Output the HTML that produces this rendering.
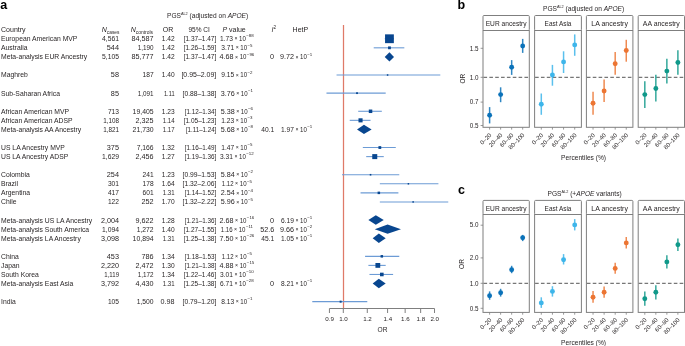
<!DOCTYPE html>
<html><head><meta charset="utf-8"><style>
html,body{margin:0;padding:0;background:#fff;width:685px;height:346px;overflow:hidden}
svg{display:block;will-change:transform;font-family:"Liberation Sans",sans-serif}
</style></head><body>
<svg width="685" height="346" viewBox="0 0 685 346">
<text x="0.2" y="8.8" font-size="12.5" font-weight="bold" fill="#000">a</text>
<text x="167.0" y="17.9" font-size="6.6" fill="#231f20">PGS<tspan font-size="3.8" dy="-2.6">AL2</tspan><tspan dy="2.6"> (adjusted on </tspan><tspan font-style="italic">APOE</tspan>)</text>
<text x="1.00" y="31.90" font-size="7" text-anchor="start" fill="#231f20" textLength="24.60" lengthAdjust="spacingAndGlyphs" >Country</text>
<text x="101.8" y="31.9" font-size="7" fill="#231f20"><tspan font-style="italic">N</tspan><tspan font-size="4.8" dy="1.9">cases</tspan></text>
<text x="130.8" y="31.9" font-size="7" fill="#231f20"><tspan font-style="italic">N</tspan><tspan font-size="4.9" dy="1.9">controls</tspan></text>
<text x="162.70" y="31.90" font-size="7" text-anchor="start" fill="#231f20" >OR</text>
<text x="188.40" y="31.90" font-size="7" text-anchor="start" fill="#231f20" textLength="21.40" lengthAdjust="spacingAndGlyphs" >95% CI</text>
<text x="222.4" y="31.9" font-size="7" fill="#231f20"><tspan font-style="italic">P</tspan> value</text>
<text x="271.6" y="31.9" font-size="7" fill="#231f20"><tspan font-style="italic">I</tspan><tspan font-size="4.6" dy="-3">2</tspan></text>
<text x="292.60" y="31.90" font-size="7" text-anchor="start" fill="#231f20" >HetP</text>
<text x="1.00" y="41.20" font-size="7" text-anchor="start" fill="#231f20" textLength="76.39" lengthAdjust="spacingAndGlyphs" >European American MVP</text>
<text x="119.00" y="41.20" font-size="7" text-anchor="end" fill="#231f20" textLength="16.94" lengthAdjust="spacingAndGlyphs" >4,561</text>
<text x="153.60" y="41.20" font-size="7" text-anchor="end" fill="#231f20" textLength="22.12" lengthAdjust="spacingAndGlyphs" >84,587</text>
<text x="174.60" y="41.20" font-size="7" text-anchor="end" fill="#231f20" textLength="12.88" lengthAdjust="spacingAndGlyphs" >1.42</text>
<text x="216.30" y="41.20" font-size="7" text-anchor="end" fill="#231f20" textLength="32.62" lengthAdjust="spacingAndGlyphs" >[1.37–1.47]</text>
<text x="220.06" y="41.20" font-size="7" text-anchor="start" fill="#231f20" textLength="12.88" lengthAdjust="spacingAndGlyphs" >1.73</text>
<text x="234.44" y="40.40" font-size="5.2" text-anchor="start" fill="#231f20" >×</text>
<text x="239.08" y="41.20" font-size="7" text-anchor="start" fill="#231f20" textLength="6.80" lengthAdjust="spacingAndGlyphs" >10</text>
<text x="246.28" y="37.45" font-size="4.4" text-anchor="start" fill="#231f20" >−88</text>
<text x="1.00" y="50.27" font-size="7" text-anchor="start" fill="#231f20" textLength="26.47" lengthAdjust="spacingAndGlyphs" >Australia</text>
<text x="119.00" y="50.27" font-size="7" text-anchor="end" fill="#231f20" textLength="12.18" lengthAdjust="spacingAndGlyphs" >544</text>
<text x="153.60" y="50.27" font-size="7" text-anchor="end" fill="#231f20" textLength="15.82" lengthAdjust="spacingAndGlyphs" >1,190</text>
<text x="174.60" y="50.27" font-size="7" text-anchor="end" fill="#231f20" textLength="12.88" lengthAdjust="spacingAndGlyphs" >1.42</text>
<text x="216.30" y="50.27" font-size="7" text-anchor="end" fill="#231f20" textLength="32.62" lengthAdjust="spacingAndGlyphs" >[1.26–1.59]</text>
<text x="221.28" y="50.27" font-size="7" text-anchor="start" fill="#231f20" textLength="12.88" lengthAdjust="spacingAndGlyphs" >3.71</text>
<text x="235.66" y="49.47" font-size="5.2" text-anchor="start" fill="#231f20" >×</text>
<text x="240.30" y="50.27" font-size="7" text-anchor="start" fill="#231f20" textLength="6.80" lengthAdjust="spacingAndGlyphs" >10</text>
<text x="247.50" y="46.52" font-size="4.4" text-anchor="start" fill="#231f20" >−5</text>
<text x="1.00" y="59.33" font-size="7" text-anchor="start" fill="#231f20" textLength="86.21" lengthAdjust="spacingAndGlyphs" >Meta-analysis EUR Ancestry</text>
<text x="119.00" y="59.33" font-size="7" text-anchor="end" fill="#231f20" textLength="16.94" lengthAdjust="spacingAndGlyphs" >5,105</text>
<text x="153.60" y="59.33" font-size="7" text-anchor="end" fill="#231f20" textLength="22.12" lengthAdjust="spacingAndGlyphs" >85,777</text>
<text x="174.60" y="59.33" font-size="7" text-anchor="end" fill="#231f20" textLength="12.88" lengthAdjust="spacingAndGlyphs" >1.42</text>
<text x="216.30" y="59.33" font-size="7" text-anchor="end" fill="#231f20" textLength="32.62" lengthAdjust="spacingAndGlyphs" >[1.37–1.47]</text>
<text x="219.50" y="59.33" font-size="7" text-anchor="start" fill="#231f20" textLength="14.00" lengthAdjust="spacingAndGlyphs" >4.68</text>
<text x="235.00" y="58.53" font-size="5.2" text-anchor="start" fill="#231f20" >×</text>
<text x="239.64" y="59.33" font-size="7" text-anchor="start" fill="#231f20" textLength="6.80" lengthAdjust="spacingAndGlyphs" >10</text>
<text x="246.84" y="55.58" font-size="4.4" text-anchor="start" fill="#231f20" >−96</text>
<text x="274.20" y="59.33" font-size="7" text-anchor="end" fill="#231f20" textLength="4.06" lengthAdjust="spacingAndGlyphs" >0</text>
<text x="279.95" y="59.33" font-size="7" text-anchor="start" fill="#231f20" textLength="14.00" lengthAdjust="spacingAndGlyphs" >9.72</text>
<text x="295.45" y="58.53" font-size="5.2" text-anchor="start" fill="#231f20" >×</text>
<text x="300.08" y="59.33" font-size="7" text-anchor="start" fill="#231f20" textLength="6.80" lengthAdjust="spacingAndGlyphs" >10</text>
<text x="307.28" y="55.58" font-size="4.4" text-anchor="start" fill="#231f20" >−1</text>
<text x="1.00" y="77.46" font-size="7" text-anchor="start" fill="#231f20" textLength="26.85" lengthAdjust="spacingAndGlyphs" >Maghreb</text>
<text x="119.00" y="77.46" font-size="7" text-anchor="end" fill="#231f20" textLength="8.12" lengthAdjust="spacingAndGlyphs" >58</text>
<text x="153.60" y="77.46" font-size="7" text-anchor="end" fill="#231f20" textLength="11.06" lengthAdjust="spacingAndGlyphs" >187</text>
<text x="174.60" y="77.46" font-size="7" text-anchor="end" fill="#231f20" textLength="12.88" lengthAdjust="spacingAndGlyphs" >1.40</text>
<text x="216.30" y="77.46" font-size="7" text-anchor="end" fill="#231f20" textLength="34.86" lengthAdjust="spacingAndGlyphs" >[0.95–2.09]</text>
<text x="221.28" y="77.46" font-size="7" text-anchor="start" fill="#231f20" textLength="12.88" lengthAdjust="spacingAndGlyphs" >9.15</text>
<text x="235.66" y="76.66" font-size="5.2" text-anchor="start" fill="#231f20" >×</text>
<text x="240.30" y="77.46" font-size="7" text-anchor="start" fill="#231f20" textLength="6.80" lengthAdjust="spacingAndGlyphs" >10</text>
<text x="247.50" y="73.71" font-size="4.4" text-anchor="start" fill="#231f20" >−2</text>
<text x="1.00" y="95.60" font-size="7" text-anchor="start" fill="#231f20" textLength="59.00" lengthAdjust="spacingAndGlyphs" >Sub-Saharan Africa</text>
<text x="119.00" y="95.60" font-size="7" text-anchor="end" fill="#231f20" textLength="8.12" lengthAdjust="spacingAndGlyphs" >85</text>
<text x="153.60" y="95.60" font-size="7" text-anchor="end" fill="#231f20" textLength="15.82" lengthAdjust="spacingAndGlyphs" >1,091</text>
<text x="174.60" y="95.60" font-size="7" text-anchor="end" fill="#231f20" textLength="10.64" lengthAdjust="spacingAndGlyphs" >1.11</text>
<text x="216.30" y="95.60" font-size="7" text-anchor="end" fill="#231f20" textLength="33.74" lengthAdjust="spacingAndGlyphs" >[0.88–1.38]</text>
<text x="220.72" y="95.60" font-size="7" text-anchor="start" fill="#231f20" textLength="14.00" lengthAdjust="spacingAndGlyphs" >3.76</text>
<text x="236.22" y="94.80" font-size="5.2" text-anchor="start" fill="#231f20" >×</text>
<text x="240.86" y="95.60" font-size="7" text-anchor="start" fill="#231f20" textLength="6.80" lengthAdjust="spacingAndGlyphs" >10</text>
<text x="248.06" y="91.85" font-size="4.4" text-anchor="start" fill="#231f20" >−1</text>
<text x="1.00" y="113.73" font-size="7" text-anchor="start" fill="#231f20" textLength="68.06" lengthAdjust="spacingAndGlyphs" >African American MVP</text>
<text x="119.00" y="113.73" font-size="7" text-anchor="end" fill="#231f20" textLength="11.06" lengthAdjust="spacingAndGlyphs" >713</text>
<text x="153.60" y="113.73" font-size="7" text-anchor="end" fill="#231f20" textLength="21.00" lengthAdjust="spacingAndGlyphs" >19,405</text>
<text x="174.60" y="113.73" font-size="7" text-anchor="end" fill="#231f20" textLength="12.88" lengthAdjust="spacingAndGlyphs" >1.23</text>
<text x="216.30" y="113.73" font-size="7" text-anchor="end" fill="#231f20" textLength="31.50" lengthAdjust="spacingAndGlyphs" >[1.12–1.34]</text>
<text x="220.72" y="113.73" font-size="7" text-anchor="start" fill="#231f20" textLength="14.00" lengthAdjust="spacingAndGlyphs" >5.38</text>
<text x="236.22" y="112.93" font-size="5.2" text-anchor="start" fill="#231f20" >×</text>
<text x="240.86" y="113.73" font-size="7" text-anchor="start" fill="#231f20" textLength="6.80" lengthAdjust="spacingAndGlyphs" >10</text>
<text x="248.06" y="109.98" font-size="4.4" text-anchor="start" fill="#231f20" >−6</text>
<text x="1.00" y="122.79" font-size="7" text-anchor="start" fill="#231f20" textLength="71.47" lengthAdjust="spacingAndGlyphs" >African American ADSP</text>
<text x="119.00" y="122.79" font-size="7" text-anchor="end" fill="#231f20" textLength="15.82" lengthAdjust="spacingAndGlyphs" >1,108</text>
<text x="153.60" y="122.79" font-size="7" text-anchor="end" fill="#231f20" textLength="18.06" lengthAdjust="spacingAndGlyphs" >2,325</text>
<text x="174.60" y="122.79" font-size="7" text-anchor="end" fill="#231f20" textLength="11.76" lengthAdjust="spacingAndGlyphs" >1.14</text>
<text x="216.30" y="122.79" font-size="7" text-anchor="end" fill="#231f20" textLength="32.62" lengthAdjust="spacingAndGlyphs" >[1.05–1.23]</text>
<text x="221.28" y="122.79" font-size="7" text-anchor="start" fill="#231f20" textLength="12.88" lengthAdjust="spacingAndGlyphs" >1.23</text>
<text x="235.66" y="121.99" font-size="5.2" text-anchor="start" fill="#231f20" >×</text>
<text x="240.30" y="122.79" font-size="7" text-anchor="start" fill="#231f20" textLength="6.80" lengthAdjust="spacingAndGlyphs" >10</text>
<text x="247.50" y="119.04" font-size="4.4" text-anchor="start" fill="#231f20" >−3</text>
<text x="1.00" y="131.86" font-size="7" text-anchor="start" fill="#231f20" textLength="80.17" lengthAdjust="spacingAndGlyphs" >Meta-analysis AA Ancestry</text>
<text x="119.00" y="131.86" font-size="7" text-anchor="end" fill="#231f20" textLength="15.82" lengthAdjust="spacingAndGlyphs" >1,821</text>
<text x="153.60" y="131.86" font-size="7" text-anchor="end" fill="#231f20" textLength="21.00" lengthAdjust="spacingAndGlyphs" >21,730</text>
<text x="174.60" y="131.86" font-size="7" text-anchor="end" fill="#231f20" textLength="11.76" lengthAdjust="spacingAndGlyphs" >1.17</text>
<text x="216.30" y="131.86" font-size="7" text-anchor="end" fill="#231f20" textLength="30.38" lengthAdjust="spacingAndGlyphs" >[1.11–1.24]</text>
<text x="220.72" y="131.86" font-size="7" text-anchor="start" fill="#231f20" textLength="14.00" lengthAdjust="spacingAndGlyphs" >5.68</text>
<text x="236.22" y="131.06" font-size="5.2" text-anchor="start" fill="#231f20" >×</text>
<text x="240.86" y="131.86" font-size="7" text-anchor="start" fill="#231f20" textLength="6.80" lengthAdjust="spacingAndGlyphs" >10</text>
<text x="248.06" y="128.11" font-size="4.4" text-anchor="start" fill="#231f20" >−8</text>
<text x="274.20" y="131.86" font-size="7" text-anchor="end" fill="#231f20" textLength="12.88" lengthAdjust="spacingAndGlyphs" >40.1</text>
<text x="281.07" y="131.86" font-size="7" text-anchor="start" fill="#231f20" textLength="12.88" lengthAdjust="spacingAndGlyphs" >1.97</text>
<text x="295.45" y="131.06" font-size="5.2" text-anchor="start" fill="#231f20" >×</text>
<text x="300.08" y="131.86" font-size="7" text-anchor="start" fill="#231f20" textLength="6.80" lengthAdjust="spacingAndGlyphs" >10</text>
<text x="307.28" y="128.11" font-size="4.4" text-anchor="start" fill="#231f20" >−1</text>
<text x="1.00" y="149.99" font-size="7" text-anchor="start" fill="#231f20" textLength="63.91" lengthAdjust="spacingAndGlyphs" >US LA Ancestry MVP</text>
<text x="119.00" y="149.99" font-size="7" text-anchor="end" fill="#231f20" textLength="12.18" lengthAdjust="spacingAndGlyphs" >375</text>
<text x="153.60" y="149.99" font-size="7" text-anchor="end" fill="#231f20" textLength="16.94" lengthAdjust="spacingAndGlyphs" >7,166</text>
<text x="174.60" y="149.99" font-size="7" text-anchor="end" fill="#231f20" textLength="12.88" lengthAdjust="spacingAndGlyphs" >1.32</text>
<text x="216.30" y="149.99" font-size="7" text-anchor="end" fill="#231f20" textLength="31.50" lengthAdjust="spacingAndGlyphs" >[1.16–1.49]</text>
<text x="221.28" y="149.99" font-size="7" text-anchor="start" fill="#231f20" textLength="12.88" lengthAdjust="spacingAndGlyphs" >1.47</text>
<text x="235.66" y="149.19" font-size="5.2" text-anchor="start" fill="#231f20" >×</text>
<text x="240.30" y="149.99" font-size="7" text-anchor="start" fill="#231f20" textLength="6.80" lengthAdjust="spacingAndGlyphs" >10</text>
<text x="247.50" y="146.24" font-size="4.4" text-anchor="start" fill="#231f20" >−5</text>
<text x="1.00" y="159.06" font-size="7" text-anchor="start" fill="#231f20" textLength="67.32" lengthAdjust="spacingAndGlyphs" >US LA Ancestry ADSP</text>
<text x="119.00" y="159.06" font-size="7" text-anchor="end" fill="#231f20" textLength="16.94" lengthAdjust="spacingAndGlyphs" >1,629</text>
<text x="153.60" y="159.06" font-size="7" text-anchor="end" fill="#231f20" textLength="18.06" lengthAdjust="spacingAndGlyphs" >2,456</text>
<text x="174.60" y="159.06" font-size="7" text-anchor="end" fill="#231f20" textLength="12.88" lengthAdjust="spacingAndGlyphs" >1.27</text>
<text x="216.30" y="159.06" font-size="7" text-anchor="end" fill="#231f20" textLength="31.50" lengthAdjust="spacingAndGlyphs" >[1.19–1.36]</text>
<text x="220.06" y="159.06" font-size="7" text-anchor="start" fill="#231f20" textLength="12.88" lengthAdjust="spacingAndGlyphs" >3.31</text>
<text x="234.44" y="158.26" font-size="5.2" text-anchor="start" fill="#231f20" >×</text>
<text x="239.08" y="159.06" font-size="7" text-anchor="start" fill="#231f20" textLength="6.80" lengthAdjust="spacingAndGlyphs" >10</text>
<text x="246.28" y="155.31" font-size="4.4" text-anchor="start" fill="#231f20" >−12</text>
<text x="1.00" y="177.19" font-size="7" text-anchor="start" fill="#231f20" textLength="28.74" lengthAdjust="spacingAndGlyphs" >Colombia</text>
<text x="119.00" y="177.19" font-size="7" text-anchor="end" fill="#231f20" textLength="12.18" lengthAdjust="spacingAndGlyphs" >254</text>
<text x="153.60" y="177.19" font-size="7" text-anchor="end" fill="#231f20" textLength="11.06" lengthAdjust="spacingAndGlyphs" >241</text>
<text x="174.60" y="177.19" font-size="7" text-anchor="end" fill="#231f20" textLength="12.88" lengthAdjust="spacingAndGlyphs" >1.23</text>
<text x="216.30" y="177.19" font-size="7" text-anchor="end" fill="#231f20" textLength="33.74" lengthAdjust="spacingAndGlyphs" >[0.99–1.53]</text>
<text x="220.72" y="177.19" font-size="7" text-anchor="start" fill="#231f20" textLength="14.00" lengthAdjust="spacingAndGlyphs" >5.84</text>
<text x="236.22" y="176.39" font-size="5.2" text-anchor="start" fill="#231f20" >×</text>
<text x="240.86" y="177.19" font-size="7" text-anchor="start" fill="#231f20" textLength="6.80" lengthAdjust="spacingAndGlyphs" >10</text>
<text x="248.06" y="173.44" font-size="4.4" text-anchor="start" fill="#231f20" >−2</text>
<text x="1.00" y="186.26" font-size="7" text-anchor="start" fill="#231f20" textLength="17.01" lengthAdjust="spacingAndGlyphs" >Brazil</text>
<text x="119.00" y="186.26" font-size="7" text-anchor="end" fill="#231f20" textLength="11.06" lengthAdjust="spacingAndGlyphs" >301</text>
<text x="153.60" y="186.26" font-size="7" text-anchor="end" fill="#231f20" textLength="11.06" lengthAdjust="spacingAndGlyphs" >178</text>
<text x="174.60" y="186.26" font-size="7" text-anchor="end" fill="#231f20" textLength="12.88" lengthAdjust="spacingAndGlyphs" >1.64</text>
<text x="216.30" y="186.26" font-size="7" text-anchor="end" fill="#231f20" textLength="33.74" lengthAdjust="spacingAndGlyphs" >[1.32–2.06]</text>
<text x="221.84" y="186.26" font-size="7" text-anchor="start" fill="#231f20" textLength="11.76" lengthAdjust="spacingAndGlyphs" >1.12</text>
<text x="235.10" y="185.46" font-size="5.2" text-anchor="start" fill="#231f20" >×</text>
<text x="239.74" y="186.26" font-size="7" text-anchor="start" fill="#231f20" textLength="6.80" lengthAdjust="spacingAndGlyphs" >10</text>
<text x="246.94" y="182.51" font-size="4.4" text-anchor="start" fill="#231f20" >−5</text>
<text x="1.00" y="195.32" font-size="7" text-anchor="start" fill="#231f20" textLength="29.12" lengthAdjust="spacingAndGlyphs" >Argentina</text>
<text x="119.00" y="195.32" font-size="7" text-anchor="end" fill="#231f20" textLength="11.06" lengthAdjust="spacingAndGlyphs" >417</text>
<text x="153.60" y="195.32" font-size="7" text-anchor="end" fill="#231f20" textLength="11.06" lengthAdjust="spacingAndGlyphs" >601</text>
<text x="174.60" y="195.32" font-size="7" text-anchor="end" fill="#231f20" textLength="11.76" lengthAdjust="spacingAndGlyphs" >1.31</text>
<text x="216.30" y="195.32" font-size="7" text-anchor="end" fill="#231f20" textLength="31.50" lengthAdjust="spacingAndGlyphs" >[1.14–1.52]</text>
<text x="220.72" y="195.32" font-size="7" text-anchor="start" fill="#231f20" textLength="14.00" lengthAdjust="spacingAndGlyphs" >2.54</text>
<text x="236.22" y="194.52" font-size="5.2" text-anchor="start" fill="#231f20" >×</text>
<text x="240.86" y="195.32" font-size="7" text-anchor="start" fill="#231f20" textLength="6.80" lengthAdjust="spacingAndGlyphs" >10</text>
<text x="248.06" y="191.57" font-size="4.4" text-anchor="start" fill="#231f20" >−4</text>
<text x="1.00" y="204.39" font-size="7" text-anchor="start" fill="#231f20" textLength="15.50" lengthAdjust="spacingAndGlyphs" >Chile</text>
<text x="119.00" y="204.39" font-size="7" text-anchor="end" fill="#231f20" textLength="11.06" lengthAdjust="spacingAndGlyphs" >122</text>
<text x="153.60" y="204.39" font-size="7" text-anchor="end" fill="#231f20" textLength="12.18" lengthAdjust="spacingAndGlyphs" >252</text>
<text x="174.60" y="204.39" font-size="7" text-anchor="end" fill="#231f20" textLength="12.88" lengthAdjust="spacingAndGlyphs" >1.70</text>
<text x="216.30" y="204.39" font-size="7" text-anchor="end" fill="#231f20" textLength="33.74" lengthAdjust="spacingAndGlyphs" >[1.32–2.22]</text>
<text x="220.72" y="204.39" font-size="7" text-anchor="start" fill="#231f20" textLength="14.00" lengthAdjust="spacingAndGlyphs" >5.96</text>
<text x="236.22" y="203.59" font-size="5.2" text-anchor="start" fill="#231f20" >×</text>
<text x="240.86" y="204.39" font-size="7" text-anchor="start" fill="#231f20" textLength="6.80" lengthAdjust="spacingAndGlyphs" >10</text>
<text x="248.06" y="200.64" font-size="4.4" text-anchor="start" fill="#231f20" >−5</text>
<text x="1.00" y="222.52" font-size="7" text-anchor="start" fill="#231f20" textLength="91.13" lengthAdjust="spacingAndGlyphs" >Meta-analysis US LA Ancestry</text>
<text x="119.00" y="222.52" font-size="7" text-anchor="end" fill="#231f20" textLength="18.06" lengthAdjust="spacingAndGlyphs" >2,004</text>
<text x="153.60" y="222.52" font-size="7" text-anchor="end" fill="#231f20" textLength="18.06" lengthAdjust="spacingAndGlyphs" >9,622</text>
<text x="174.60" y="222.52" font-size="7" text-anchor="end" fill="#231f20" textLength="12.88" lengthAdjust="spacingAndGlyphs" >1.28</text>
<text x="216.30" y="222.52" font-size="7" text-anchor="end" fill="#231f20" textLength="31.50" lengthAdjust="spacingAndGlyphs" >[1.21–1.36]</text>
<text x="219.50" y="222.52" font-size="7" text-anchor="start" fill="#231f20" textLength="14.00" lengthAdjust="spacingAndGlyphs" >2.68</text>
<text x="235.00" y="221.72" font-size="5.2" text-anchor="start" fill="#231f20" >×</text>
<text x="239.64" y="222.52" font-size="7" text-anchor="start" fill="#231f20" textLength="6.80" lengthAdjust="spacingAndGlyphs" >10</text>
<text x="246.84" y="218.77" font-size="4.4" text-anchor="start" fill="#231f20" >−16</text>
<text x="274.20" y="222.52" font-size="7" text-anchor="end" fill="#231f20" textLength="4.06" lengthAdjust="spacingAndGlyphs" >0</text>
<text x="281.07" y="222.52" font-size="7" text-anchor="start" fill="#231f20" textLength="12.88" lengthAdjust="spacingAndGlyphs" >6.19</text>
<text x="295.45" y="221.72" font-size="5.2" text-anchor="start" fill="#231f20" >×</text>
<text x="300.08" y="222.52" font-size="7" text-anchor="start" fill="#231f20" textLength="6.80" lengthAdjust="spacingAndGlyphs" >10</text>
<text x="307.28" y="218.77" font-size="4.4" text-anchor="start" fill="#231f20" >−1</text>
<text x="1.00" y="231.59" font-size="7" text-anchor="start" fill="#231f20" textLength="88.11" lengthAdjust="spacingAndGlyphs" >Meta-analysis South America</text>
<text x="119.00" y="231.59" font-size="7" text-anchor="end" fill="#231f20" textLength="16.94" lengthAdjust="spacingAndGlyphs" >1,094</text>
<text x="153.60" y="231.59" font-size="7" text-anchor="end" fill="#231f20" textLength="16.94" lengthAdjust="spacingAndGlyphs" >1,272</text>
<text x="174.60" y="231.59" font-size="7" text-anchor="end" fill="#231f20" textLength="12.88" lengthAdjust="spacingAndGlyphs" >1.40</text>
<text x="216.30" y="231.59" font-size="7" text-anchor="end" fill="#231f20" textLength="32.62" lengthAdjust="spacingAndGlyphs" >[1.27–1.55]</text>
<text x="220.78" y="231.59" font-size="7" text-anchor="start" fill="#231f20" textLength="11.76" lengthAdjust="spacingAndGlyphs" >1.16</text>
<text x="234.04" y="230.79" font-size="5.2" text-anchor="start" fill="#231f20" >×</text>
<text x="238.68" y="231.59" font-size="7" text-anchor="start" fill="#231f20" textLength="6.80" lengthAdjust="spacingAndGlyphs" >10</text>
<text x="245.88" y="227.84" font-size="4.4" text-anchor="start" fill="#231f20" >−11</text>
<text x="274.20" y="231.59" font-size="7" text-anchor="end" fill="#231f20" textLength="14.00" lengthAdjust="spacingAndGlyphs" >52.6</text>
<text x="279.95" y="231.59" font-size="7" text-anchor="start" fill="#231f20" textLength="14.00" lengthAdjust="spacingAndGlyphs" >9.66</text>
<text x="295.45" y="230.79" font-size="5.2" text-anchor="start" fill="#231f20" >×</text>
<text x="300.08" y="231.59" font-size="7" text-anchor="start" fill="#231f20" textLength="6.80" lengthAdjust="spacingAndGlyphs" >10</text>
<text x="307.28" y="227.84" font-size="4.4" text-anchor="start" fill="#231f20" >−2</text>
<text x="1.00" y="240.65" font-size="7" text-anchor="start" fill="#231f20" textLength="79.79" lengthAdjust="spacingAndGlyphs" >Meta-analysis LA Ancestry</text>
<text x="119.00" y="240.65" font-size="7" text-anchor="end" fill="#231f20" textLength="18.06" lengthAdjust="spacingAndGlyphs" >3,098</text>
<text x="153.60" y="240.65" font-size="7" text-anchor="end" fill="#231f20" textLength="21.00" lengthAdjust="spacingAndGlyphs" >10,894</text>
<text x="174.60" y="240.65" font-size="7" text-anchor="end" fill="#231f20" textLength="11.76" lengthAdjust="spacingAndGlyphs" >1.31</text>
<text x="216.30" y="240.65" font-size="7" text-anchor="end" fill="#231f20" textLength="32.62" lengthAdjust="spacingAndGlyphs" >[1.25–1.38]</text>
<text x="219.50" y="240.65" font-size="7" text-anchor="start" fill="#231f20" textLength="14.00" lengthAdjust="spacingAndGlyphs" >7.50</text>
<text x="235.00" y="239.85" font-size="5.2" text-anchor="start" fill="#231f20" >×</text>
<text x="239.64" y="240.65" font-size="7" text-anchor="start" fill="#231f20" textLength="6.80" lengthAdjust="spacingAndGlyphs" >10</text>
<text x="246.84" y="236.90" font-size="4.4" text-anchor="start" fill="#231f20" >−26</text>
<text x="274.20" y="240.65" font-size="7" text-anchor="end" fill="#231f20" textLength="12.88" lengthAdjust="spacingAndGlyphs" >45.1</text>
<text x="281.07" y="240.65" font-size="7" text-anchor="start" fill="#231f20" textLength="12.88" lengthAdjust="spacingAndGlyphs" >1.05</text>
<text x="295.45" y="239.85" font-size="5.2" text-anchor="start" fill="#231f20" >×</text>
<text x="300.08" y="240.65" font-size="7" text-anchor="start" fill="#231f20" textLength="6.80" lengthAdjust="spacingAndGlyphs" >10</text>
<text x="307.28" y="236.90" font-size="4.4" text-anchor="start" fill="#231f20" >−1</text>
<text x="1.00" y="258.78" font-size="7" text-anchor="start" fill="#231f20" textLength="17.78" lengthAdjust="spacingAndGlyphs" >China</text>
<text x="119.00" y="258.78" font-size="7" text-anchor="end" fill="#231f20" textLength="12.18" lengthAdjust="spacingAndGlyphs" >453</text>
<text x="153.60" y="258.78" font-size="7" text-anchor="end" fill="#231f20" textLength="12.18" lengthAdjust="spacingAndGlyphs" >786</text>
<text x="174.60" y="258.78" font-size="7" text-anchor="end" fill="#231f20" textLength="12.88" lengthAdjust="spacingAndGlyphs" >1.34</text>
<text x="216.30" y="258.78" font-size="7" text-anchor="end" fill="#231f20" textLength="31.50" lengthAdjust="spacingAndGlyphs" >[1.18–1.53]</text>
<text x="221.84" y="258.78" font-size="7" text-anchor="start" fill="#231f20" textLength="11.76" lengthAdjust="spacingAndGlyphs" >1.12</text>
<text x="235.10" y="257.98" font-size="5.2" text-anchor="start" fill="#231f20" >×</text>
<text x="239.74" y="258.78" font-size="7" text-anchor="start" fill="#231f20" textLength="6.80" lengthAdjust="spacingAndGlyphs" >10</text>
<text x="246.94" y="255.03" font-size="4.4" text-anchor="start" fill="#231f20" >−5</text>
<text x="1.00" y="267.85" font-size="7" text-anchor="start" fill="#231f20" textLength="18.54" lengthAdjust="spacingAndGlyphs" >Japan</text>
<text x="119.00" y="267.85" font-size="7" text-anchor="end" fill="#231f20" textLength="18.06" lengthAdjust="spacingAndGlyphs" >2,220</text>
<text x="153.60" y="267.85" font-size="7" text-anchor="end" fill="#231f20" textLength="18.06" lengthAdjust="spacingAndGlyphs" >2,472</text>
<text x="174.60" y="267.85" font-size="7" text-anchor="end" fill="#231f20" textLength="12.88" lengthAdjust="spacingAndGlyphs" >1.30</text>
<text x="216.30" y="267.85" font-size="7" text-anchor="end" fill="#231f20" textLength="31.50" lengthAdjust="spacingAndGlyphs" >[1.21–1.38]</text>
<text x="219.50" y="267.85" font-size="7" text-anchor="start" fill="#231f20" textLength="14.00" lengthAdjust="spacingAndGlyphs" >4.88</text>
<text x="235.00" y="267.05" font-size="5.2" text-anchor="start" fill="#231f20" >×</text>
<text x="239.64" y="267.85" font-size="7" text-anchor="start" fill="#231f20" textLength="6.80" lengthAdjust="spacingAndGlyphs" >10</text>
<text x="246.84" y="264.10" font-size="4.4" text-anchor="start" fill="#231f20" >−15</text>
<text x="1.00" y="276.92" font-size="7" text-anchor="start" fill="#231f20" textLength="37.82" lengthAdjust="spacingAndGlyphs" >South Korea</text>
<text x="119.00" y="276.92" font-size="7" text-anchor="end" fill="#231f20" textLength="14.70" lengthAdjust="spacingAndGlyphs" >1,119</text>
<text x="153.60" y="276.92" font-size="7" text-anchor="end" fill="#231f20" textLength="15.82" lengthAdjust="spacingAndGlyphs" >1,172</text>
<text x="174.60" y="276.92" font-size="7" text-anchor="end" fill="#231f20" textLength="12.88" lengthAdjust="spacingAndGlyphs" >1.34</text>
<text x="216.30" y="276.92" font-size="7" text-anchor="end" fill="#231f20" textLength="32.62" lengthAdjust="spacingAndGlyphs" >[1.22–1.46]</text>
<text x="220.06" y="276.92" font-size="7" text-anchor="start" fill="#231f20" textLength="12.88" lengthAdjust="spacingAndGlyphs" >3.01</text>
<text x="234.44" y="276.12" font-size="5.2" text-anchor="start" fill="#231f20" >×</text>
<text x="239.08" y="276.92" font-size="7" text-anchor="start" fill="#231f20" textLength="6.80" lengthAdjust="spacingAndGlyphs" >10</text>
<text x="246.28" y="273.17" font-size="4.4" text-anchor="start" fill="#231f20" >−10</text>
<text x="1.00" y="285.98" font-size="7" text-anchor="start" fill="#231f20" textLength="72.23" lengthAdjust="spacingAndGlyphs" >Meta-analysis East Asia</text>
<text x="119.00" y="285.98" font-size="7" text-anchor="end" fill="#231f20" textLength="18.06" lengthAdjust="spacingAndGlyphs" >3,792</text>
<text x="153.60" y="285.98" font-size="7" text-anchor="end" fill="#231f20" textLength="18.06" lengthAdjust="spacingAndGlyphs" >4,430</text>
<text x="174.60" y="285.98" font-size="7" text-anchor="end" fill="#231f20" textLength="11.76" lengthAdjust="spacingAndGlyphs" >1.31</text>
<text x="216.30" y="285.98" font-size="7" text-anchor="end" fill="#231f20" textLength="32.62" lengthAdjust="spacingAndGlyphs" >[1.25–1.38]</text>
<text x="220.06" y="285.98" font-size="7" text-anchor="start" fill="#231f20" textLength="12.88" lengthAdjust="spacingAndGlyphs" >6.71</text>
<text x="234.44" y="285.18" font-size="5.2" text-anchor="start" fill="#231f20" >×</text>
<text x="239.08" y="285.98" font-size="7" text-anchor="start" fill="#231f20" textLength="6.80" lengthAdjust="spacingAndGlyphs" >10</text>
<text x="246.28" y="282.23" font-size="4.4" text-anchor="start" fill="#231f20" >−28</text>
<text x="274.20" y="285.98" font-size="7" text-anchor="end" fill="#231f20" textLength="4.06" lengthAdjust="spacingAndGlyphs" >0</text>
<text x="281.07" y="285.98" font-size="7" text-anchor="start" fill="#231f20" textLength="12.88" lengthAdjust="spacingAndGlyphs" >8.21</text>
<text x="295.45" y="285.18" font-size="5.2" text-anchor="start" fill="#231f20" >×</text>
<text x="300.08" y="285.98" font-size="7" text-anchor="start" fill="#231f20" textLength="6.80" lengthAdjust="spacingAndGlyphs" >10</text>
<text x="307.28" y="282.23" font-size="4.4" text-anchor="start" fill="#231f20" >−1</text>
<text x="1.00" y="304.11" font-size="7" text-anchor="start" fill="#231f20" textLength="14.75" lengthAdjust="spacingAndGlyphs" >India</text>
<text x="119.00" y="304.11" font-size="7" text-anchor="end" fill="#231f20" textLength="11.06" lengthAdjust="spacingAndGlyphs" >105</text>
<text x="153.60" y="304.11" font-size="7" text-anchor="end" fill="#231f20" textLength="16.94" lengthAdjust="spacingAndGlyphs" >1,500</text>
<text x="174.60" y="304.11" font-size="7" text-anchor="end" fill="#231f20" textLength="14.00" lengthAdjust="spacingAndGlyphs" >0.98</text>
<text x="216.30" y="304.11" font-size="7" text-anchor="end" fill="#231f20" textLength="33.74" lengthAdjust="spacingAndGlyphs" >[0.79–1.20]</text>
<text x="221.28" y="304.11" font-size="7" text-anchor="start" fill="#231f20" textLength="12.88" lengthAdjust="spacingAndGlyphs" >8.13</text>
<text x="235.66" y="303.31" font-size="5.2" text-anchor="start" fill="#231f20" >×</text>
<text x="240.30" y="304.11" font-size="7" text-anchor="start" fill="#231f20" textLength="6.80" lengthAdjust="spacingAndGlyphs" >10</text>
<text x="247.50" y="300.36" font-size="4.4" text-anchor="start" fill="#231f20" >−1</text>
<line x1="343.5" y1="25" x2="343.5" y2="308.5" stroke="#df7a68" stroke-width="1.25"/>
<line x1="384.73" y1="38.75" x2="394.00" y2="38.75" stroke="#6c9bd5" stroke-width="1.1"/>
<rect x="385.05" y="34.35" width="8.8" height="8.8" fill="#08468f"/>
<line x1="373.71" y1="47.82" x2="404.33" y2="47.82" stroke="#6c9bd5" stroke-width="1.1"/>
<rect x="388.05" y="46.42" width="2.8" height="2.8" fill="#08468f"/>
<polygon points="384.73,56.88 389.45,52.18 394.00,56.88 389.45,61.58" fill="#08468f"/>
<line x1="336.55" y1="75.01" x2="440.31" y2="75.01" stroke="#6c9bd5" stroke-width="1.1"/>
<rect x="386.83" y="74.26" width="1.5" height="1.5" fill="#08468f"/>
<line x1="326.48" y1="93.15" x2="385.69" y2="93.15" stroke="#6c9bd5" stroke-width="1.1"/>
<rect x="356.13" y="92.25" width="1.8" height="1.8" fill="#08468f"/>
<line x1="358.21" y1="111.28" x2="381.82" y2="111.28" stroke="#6c9bd5" stroke-width="1.1"/>
<rect x="368.79" y="109.53" width="3.5" height="3.5" fill="#08468f"/>
<line x1="349.72" y1="120.34" x2="370.54" y2="120.34" stroke="#6c9bd5" stroke-width="1.1"/>
<rect x="358.49" y="118.29" width="4.1" height="4.1" fill="#08468f"/>
<polygon points="357.03,129.41 363.96,124.71 371.61,129.41 363.96,134.11" fill="#08468f"/>
<line x1="362.83" y1="147.54" x2="395.78" y2="147.54" stroke="#6c9bd5" stroke-width="1.1"/>
<rect x="378.44" y="146.14" width="2.8" height="2.8" fill="#08468f"/>
<line x1="366.19" y1="156.61" x2="383.76" y2="156.61" stroke="#6c9bd5" stroke-width="1.1"/>
<rect x="372.25" y="154.11" width="5.0" height="5.0" fill="#08468f"/>
<line x1="341.98" y1="174.74" x2="399.27" y2="174.74" stroke="#6c9bd5" stroke-width="1.1"/>
<rect x="369.74" y="173.94" width="1.6" height="1.6" fill="#08468f"/>
<line x1="379.84" y1="183.81" x2="438.41" y2="183.81" stroke="#6c9bd5" stroke-width="1.1"/>
<rect x="407.65" y="183.06" width="1.5" height="1.5" fill="#08468f"/>
<line x1="360.54" y1="192.87" x2="398.40" y2="192.87" stroke="#6c9bd5" stroke-width="1.1"/>
<rect x="377.59" y="191.62" width="2.5" height="2.5" fill="#08468f"/>
<line x1="379.84" y1="201.94" x2="448.25" y2="201.94" stroke="#6c9bd5" stroke-width="1.1"/>
<rect x="412.38" y="201.19" width="1.5" height="1.5" fill="#08468f"/>
<polygon points="368.39,220.07 375.79,215.37 383.76,220.07 375.79,224.77" fill="#08468f"/>
<polygon points="374.75,229.14 387.58,224.44 400.97,229.14 387.58,233.84" fill="#08468f"/>
<polygon points="372.67,238.20 378.84,233.50 385.69,238.20 378.84,242.90" fill="#08468f"/>
<line x1="365.08" y1="256.33" x2="399.27" y2="256.33" stroke="#6c9bd5" stroke-width="1.1"/>
<rect x="380.57" y="255.08" width="2.5" height="2.5" fill="#08468f"/>
<line x1="368.39" y1="265.40" x2="385.69" y2="265.40" stroke="#6c9bd5" stroke-width="1.1"/>
<rect x="375.43" y="263.00" width="4.8" height="4.8" fill="#08468f"/>
<line x1="369.47" y1="274.47" x2="393.10" y2="274.47" stroke="#6c9bd5" stroke-width="1.1"/>
<rect x="380.02" y="272.67" width="3.6" height="3.6" fill="#08468f"/>
<polygon points="372.67,283.53 378.84,278.83 385.69,283.53 378.84,288.23" fill="#08468f"/>
<line x1="312.28" y1="301.66" x2="367.29" y2="301.66" stroke="#6c9bd5" stroke-width="1.1"/>
<rect x="339.64" y="300.66" width="2.0" height="2.0" fill="#08468f"/>
<line x1="329.43" y1="308.5" x2="434.52" y2="308.5" stroke="#7f7f7f" stroke-width="1"/>
<line x1="329.43" y1="308.5" x2="329.43" y2="313" stroke="#7f7f7f" stroke-width="1"/>
<text x="329.63" y="320.60" font-size="6.2" text-anchor="middle" fill="#231f20" >0.9</text>
<line x1="343.30" y1="308.5" x2="343.30" y2="313" stroke="#7f7f7f" stroke-width="1"/>
<text x="343.50" y="320.60" font-size="6.2" text-anchor="middle" fill="#231f20" >1.0</text>
<line x1="367.29" y1="308.5" x2="367.29" y2="313" stroke="#7f7f7f" stroke-width="1"/>
<text x="367.49" y="320.60" font-size="6.2" text-anchor="middle" fill="#231f20" >1.2</text>
<line x1="387.58" y1="308.5" x2="387.58" y2="313" stroke="#7f7f7f" stroke-width="1"/>
<text x="387.78" y="320.60" font-size="6.2" text-anchor="middle" fill="#231f20" >1.4</text>
<line x1="405.15" y1="308.5" x2="405.15" y2="313" stroke="#7f7f7f" stroke-width="1"/>
<text x="405.35" y="320.60" font-size="6.2" text-anchor="middle" fill="#231f20" >1.6</text>
<line x1="420.65" y1="308.5" x2="420.65" y2="313" stroke="#7f7f7f" stroke-width="1"/>
<text x="420.85" y="320.60" font-size="6.2" text-anchor="middle" fill="#231f20" >1.8</text>
<line x1="434.52" y1="308.5" x2="434.52" y2="313" stroke="#7f7f7f" stroke-width="1"/>
<text x="434.72" y="320.60" font-size="6.2" text-anchor="middle" fill="#231f20" >2.0</text>
<text x="382.50" y="332.00" font-size="6.6" text-anchor="middle" fill="#231f20" >OR</text>
<text x="457.6" y="9.1" font-size="12.5" font-weight="bold" fill="#000">b</text>
<text x="543.0" y="11.0" font-size="6.6" fill="#231f20">PGS<tspan font-size="3.8" dy="-2.6">AL2</tspan><tspan dy="2.6"> (adjusted on </tspan><tspan font-style="italic">APOE</tspan>)</text>
<rect x="483.00" y="15.50" width="46.30" height="15.00" fill="#fff" stroke="#7f7f7f" stroke-width="1" rx="1"/>
<text x="506.15" y="25.70" font-size="6.5" text-anchor="middle" fill="#231f20" textLength="40.90" lengthAdjust="spacingAndGlyphs" >EUR ancestry</text>
<rect x="483.00" y="30.50" width="46.30" height="96.80" fill="#fff" stroke="#7f7f7f" stroke-width="1"/>
<line x1="483.50" y1="77.30" x2="528.80" y2="77.30" stroke="#555" stroke-width="1" stroke-dasharray="3.6,2.25"/>
<line x1="489.61" y1="127.30" x2="489.61" y2="129.60" stroke="#7f7f7f" stroke-width="0.8"/>
<text transform="translate(491.91,135.60) rotate(-45)" font-size="6.0" text-anchor="end" fill="#231f20">0–20</text>
<line x1="500.64" y1="127.30" x2="500.64" y2="129.60" stroke="#7f7f7f" stroke-width="0.8"/>
<text transform="translate(502.94,135.60) rotate(-45)" font-size="6.0" text-anchor="end" fill="#231f20">20–40</text>
<line x1="511.66" y1="127.30" x2="511.66" y2="129.60" stroke="#7f7f7f" stroke-width="0.8"/>
<text transform="translate(513.96,135.60) rotate(-45)" font-size="6.0" text-anchor="end" fill="#231f20">60–80</text>
<line x1="522.69" y1="127.30" x2="522.69" y2="129.60" stroke="#7f7f7f" stroke-width="0.8"/>
<text transform="translate(524.99,135.60) rotate(-45)" font-size="6.0" text-anchor="end" fill="#231f20">80–100</text>
<line x1="489.61" y1="107.10" x2="489.61" y2="123.40" stroke="#0b72b9" stroke-width="1.5" stroke-opacity="0.85"/>
<circle cx="489.61" cy="115.30" r="2.45" fill="#0b72b9"/>
<line x1="500.64" y1="87.30" x2="500.64" y2="102.20" stroke="#0b72b9" stroke-width="1.5" stroke-opacity="0.85"/>
<circle cx="500.64" cy="94.60" r="2.45" fill="#0b72b9"/>
<line x1="511.66" y1="60.10" x2="511.66" y2="74.90" stroke="#0b72b9" stroke-width="1.5" stroke-opacity="0.85"/>
<circle cx="511.66" cy="67.20" r="2.45" fill="#0b72b9"/>
<line x1="522.69" y1="38.90" x2="522.69" y2="52.90" stroke="#0b72b9" stroke-width="1.5" stroke-opacity="0.85"/>
<circle cx="522.69" cy="46.00" r="2.45" fill="#0b72b9"/>
<rect x="534.60" y="15.50" width="46.80" height="15.00" fill="#fff" stroke="#7f7f7f" stroke-width="1" rx="1"/>
<text x="558.00" y="25.70" font-size="6.5" text-anchor="middle" fill="#231f20" textLength="26.80" lengthAdjust="spacingAndGlyphs" >East Asia</text>
<rect x="534.60" y="30.50" width="46.80" height="96.80" fill="#fff" stroke="#7f7f7f" stroke-width="1"/>
<line x1="535.10" y1="77.30" x2="580.90" y2="77.30" stroke="#555" stroke-width="1" stroke-dasharray="3.6,2.25"/>
<line x1="541.29" y1="127.30" x2="541.29" y2="129.60" stroke="#7f7f7f" stroke-width="0.8"/>
<text transform="translate(543.59,135.60) rotate(-45)" font-size="6.0" text-anchor="end" fill="#231f20">0–20</text>
<line x1="552.43" y1="127.30" x2="552.43" y2="129.60" stroke="#7f7f7f" stroke-width="0.8"/>
<text transform="translate(554.73,135.60) rotate(-45)" font-size="6.0" text-anchor="end" fill="#231f20">20–40</text>
<line x1="563.57" y1="127.30" x2="563.57" y2="129.60" stroke="#7f7f7f" stroke-width="0.8"/>
<text transform="translate(565.87,135.60) rotate(-45)" font-size="6.0" text-anchor="end" fill="#231f20">60–80</text>
<line x1="574.71" y1="127.30" x2="574.71" y2="129.60" stroke="#7f7f7f" stroke-width="0.8"/>
<text transform="translate(577.01,135.60) rotate(-45)" font-size="6.0" text-anchor="end" fill="#231f20">80–100</text>
<line x1="541.29" y1="93.50" x2="541.29" y2="114.80" stroke="#3db5ea" stroke-width="1.5" stroke-opacity="0.85"/>
<circle cx="541.29" cy="104.30" r="2.45" fill="#3db5ea"/>
<line x1="552.43" y1="64.90" x2="552.43" y2="85.70" stroke="#3db5ea" stroke-width="1.5" stroke-opacity="0.85"/>
<circle cx="552.43" cy="75.00" r="2.45" fill="#3db5ea"/>
<line x1="563.57" y1="51.30" x2="563.57" y2="73.00" stroke="#3db5ea" stroke-width="1.5" stroke-opacity="0.85"/>
<circle cx="563.57" cy="61.90" r="2.45" fill="#3db5ea"/>
<line x1="574.71" y1="34.40" x2="574.71" y2="55.80" stroke="#3db5ea" stroke-width="1.5" stroke-opacity="0.85"/>
<circle cx="574.71" cy="44.90" r="2.45" fill="#3db5ea"/>
<rect x="586.40" y="15.50" width="46.50" height="15.00" fill="#fff" stroke="#7f7f7f" stroke-width="1" rx="1"/>
<text x="609.65" y="25.70" font-size="6.5" text-anchor="middle" fill="#231f20" textLength="36.60" lengthAdjust="spacingAndGlyphs" >LA ancestry</text>
<rect x="586.40" y="30.50" width="46.50" height="96.80" fill="#fff" stroke="#7f7f7f" stroke-width="1"/>
<line x1="586.90" y1="77.30" x2="632.40" y2="77.30" stroke="#555" stroke-width="1" stroke-dasharray="3.6,2.25"/>
<line x1="593.04" y1="127.30" x2="593.04" y2="129.60" stroke="#7f7f7f" stroke-width="0.8"/>
<text transform="translate(595.34,135.60) rotate(-45)" font-size="6.0" text-anchor="end" fill="#231f20">0–20</text>
<line x1="604.11" y1="127.30" x2="604.11" y2="129.60" stroke="#7f7f7f" stroke-width="0.8"/>
<text transform="translate(606.41,135.60) rotate(-45)" font-size="6.0" text-anchor="end" fill="#231f20">20–40</text>
<line x1="615.19" y1="127.30" x2="615.19" y2="129.60" stroke="#7f7f7f" stroke-width="0.8"/>
<text transform="translate(617.49,135.60) rotate(-45)" font-size="6.0" text-anchor="end" fill="#231f20">60–80</text>
<line x1="626.26" y1="127.30" x2="626.26" y2="129.60" stroke="#7f7f7f" stroke-width="0.8"/>
<text transform="translate(628.56,135.60) rotate(-45)" font-size="6.0" text-anchor="end" fill="#231f20">80–100</text>
<line x1="593.04" y1="91.70" x2="593.04" y2="114.80" stroke="#ec7533" stroke-width="1.5" stroke-opacity="0.85"/>
<circle cx="593.04" cy="103.20" r="2.45" fill="#ec7533"/>
<line x1="604.11" y1="79.60" x2="604.11" y2="101.90" stroke="#ec7533" stroke-width="1.5" stroke-opacity="0.85"/>
<circle cx="604.11" cy="91.00" r="2.45" fill="#ec7533"/>
<line x1="615.19" y1="52.10" x2="615.19" y2="74.80" stroke="#ec7533" stroke-width="1.5" stroke-opacity="0.85"/>
<circle cx="615.19" cy="63.70" r="2.45" fill="#ec7533"/>
<line x1="626.26" y1="39.80" x2="626.26" y2="61.70" stroke="#ec7533" stroke-width="1.5" stroke-opacity="0.85"/>
<circle cx="626.26" cy="50.50" r="2.45" fill="#ec7533"/>
<rect x="638.20" y="15.50" width="46.30" height="15.00" fill="#fff" stroke="#7f7f7f" stroke-width="1" rx="1"/>
<text x="661.35" y="25.70" font-size="6.5" text-anchor="middle" fill="#231f20" textLength="37.00" lengthAdjust="spacingAndGlyphs" >AA ancestry</text>
<rect x="638.20" y="30.50" width="46.30" height="96.80" fill="#fff" stroke="#7f7f7f" stroke-width="1"/>
<line x1="638.70" y1="77.30" x2="684.00" y2="77.30" stroke="#555" stroke-width="1" stroke-dasharray="3.6,2.25"/>
<line x1="644.81" y1="127.30" x2="644.81" y2="129.60" stroke="#7f7f7f" stroke-width="0.8"/>
<text transform="translate(647.11,135.60) rotate(-45)" font-size="6.0" text-anchor="end" fill="#231f20">0–20</text>
<line x1="655.84" y1="127.30" x2="655.84" y2="129.60" stroke="#7f7f7f" stroke-width="0.8"/>
<text transform="translate(658.14,135.60) rotate(-45)" font-size="6.0" text-anchor="end" fill="#231f20">20–40</text>
<line x1="666.86" y1="127.30" x2="666.86" y2="129.60" stroke="#7f7f7f" stroke-width="0.8"/>
<text transform="translate(669.16,135.60) rotate(-45)" font-size="6.0" text-anchor="end" fill="#231f20">60–80</text>
<line x1="677.89" y1="127.30" x2="677.89" y2="129.60" stroke="#7f7f7f" stroke-width="0.8"/>
<text transform="translate(680.19,135.60) rotate(-45)" font-size="6.0" text-anchor="end" fill="#231f20">80–100</text>
<line x1="644.81" y1="81.20" x2="644.81" y2="107.90" stroke="#10998a" stroke-width="1.5" stroke-opacity="0.85"/>
<circle cx="644.81" cy="94.60" r="2.45" fill="#10998a"/>
<line x1="655.84" y1="74.70" x2="655.84" y2="101.40" stroke="#10998a" stroke-width="1.5" stroke-opacity="0.85"/>
<circle cx="655.84" cy="88.50" r="2.45" fill="#10998a"/>
<line x1="666.86" y1="58.70" x2="666.86" y2="83.60" stroke="#10998a" stroke-width="1.5" stroke-opacity="0.85"/>
<circle cx="666.86" cy="71.10" r="2.45" fill="#10998a"/>
<line x1="677.89" y1="50.20" x2="677.89" y2="74.80" stroke="#10998a" stroke-width="1.5" stroke-opacity="0.85"/>
<circle cx="677.89" cy="62.50" r="2.45" fill="#10998a"/>
<line x1="480.6" y1="48.30" x2="483" y2="48.30" stroke="#7f7f7f" stroke-width="0.8"/>
<text x="478.50" y="50.50" font-size="6.3" text-anchor="end" fill="#231f20" >1.5</text>
<line x1="480.6" y1="77.30" x2="483" y2="77.30" stroke="#7f7f7f" stroke-width="0.8"/>
<text x="478.50" y="79.50" font-size="6.3" text-anchor="end" fill="#231f20" >1.0</text>
<line x1="480.6" y1="102.10" x2="483" y2="102.10" stroke="#7f7f7f" stroke-width="0.8"/>
<text x="478.50" y="104.30" font-size="6.3" text-anchor="end" fill="#231f20" >0.7</text>
<line x1="480.6" y1="125.50" x2="483" y2="125.50" stroke="#7f7f7f" stroke-width="0.8"/>
<text x="478.50" y="127.70" font-size="6.3" text-anchor="end" fill="#231f20" >0.5</text>
<text transform="translate(465.2,78.7) rotate(-90)" font-size="6.5" text-anchor="middle" fill="#231f20">OR</text>
<text x="583.60" y="160.30" font-size="6.6" text-anchor="middle" fill="#231f20" textLength="45.00" lengthAdjust="spacingAndGlyphs" >Percentiles (%)</text>
<text x="458.0" y="193.7" font-size="12.5" font-weight="bold" fill="#000">c</text>
<text x="547.6" y="195.5" font-size="6.6" fill="#231f20">PGS<tspan font-size="3.8" dy="-2.6">AL2</tspan><tspan dy="2.6"> (+</tspan><tspan font-style="italic">APOE</tspan> variants)</text>
<rect x="483.00" y="200.40" width="46.30" height="14.10" fill="#fff" stroke="#7f7f7f" stroke-width="1" rx="1"/>
<text x="506.15" y="210.60" font-size="6.5" text-anchor="middle" fill="#231f20" textLength="40.90" lengthAdjust="spacingAndGlyphs" >EUR ancestry</text>
<rect x="483.00" y="214.50" width="46.30" height="97.90" fill="#fff" stroke="#7f7f7f" stroke-width="1"/>
<line x1="483.50" y1="283.30" x2="528.80" y2="283.30" stroke="#555" stroke-width="1" stroke-dasharray="3.6,2.25"/>
<line x1="489.61" y1="312.40" x2="489.61" y2="314.70" stroke="#7f7f7f" stroke-width="0.8"/>
<text transform="translate(491.91,320.40) rotate(-45)" font-size="6.0" text-anchor="end" fill="#231f20">0–20</text>
<line x1="500.64" y1="312.40" x2="500.64" y2="314.70" stroke="#7f7f7f" stroke-width="0.8"/>
<text transform="translate(502.94,320.40) rotate(-45)" font-size="6.0" text-anchor="end" fill="#231f20">20–40</text>
<line x1="511.66" y1="312.40" x2="511.66" y2="314.70" stroke="#7f7f7f" stroke-width="0.8"/>
<text transform="translate(513.96,320.40) rotate(-45)" font-size="6.0" text-anchor="end" fill="#231f20">60–80</text>
<line x1="522.69" y1="312.40" x2="522.69" y2="314.70" stroke="#7f7f7f" stroke-width="0.8"/>
<text transform="translate(524.99,320.40) rotate(-45)" font-size="6.0" text-anchor="end" fill="#231f20">80–100</text>
<line x1="489.61" y1="291.40" x2="489.61" y2="299.80" stroke="#0b72b9" stroke-width="1.5" stroke-opacity="0.85"/>
<circle cx="489.61" cy="295.80" r="2.45" fill="#0b72b9"/>
<line x1="500.64" y1="288.80" x2="500.64" y2="296.60" stroke="#0b72b9" stroke-width="1.5" stroke-opacity="0.85"/>
<circle cx="500.64" cy="292.80" r="2.45" fill="#0b72b9"/>
<line x1="511.66" y1="265.80" x2="511.66" y2="273.20" stroke="#0b72b9" stroke-width="1.5" stroke-opacity="0.85"/>
<circle cx="511.66" cy="269.70" r="2.45" fill="#0b72b9"/>
<line x1="522.69" y1="234.90" x2="522.69" y2="241.10" stroke="#0b72b9" stroke-width="1.5" stroke-opacity="0.85"/>
<circle cx="522.69" cy="237.70" r="2.45" fill="#0b72b9"/>
<rect x="534.60" y="200.40" width="46.80" height="14.10" fill="#fff" stroke="#7f7f7f" stroke-width="1" rx="1"/>
<text x="558.00" y="210.60" font-size="6.5" text-anchor="middle" fill="#231f20" textLength="26.80" lengthAdjust="spacingAndGlyphs" >East Asia</text>
<rect x="534.60" y="214.50" width="46.80" height="97.90" fill="#fff" stroke="#7f7f7f" stroke-width="1"/>
<line x1="535.10" y1="283.30" x2="580.90" y2="283.30" stroke="#555" stroke-width="1" stroke-dasharray="3.6,2.25"/>
<line x1="541.29" y1="312.40" x2="541.29" y2="314.70" stroke="#7f7f7f" stroke-width="0.8"/>
<text transform="translate(543.59,320.40) rotate(-45)" font-size="6.0" text-anchor="end" fill="#231f20">0–20</text>
<line x1="552.43" y1="312.40" x2="552.43" y2="314.70" stroke="#7f7f7f" stroke-width="0.8"/>
<text transform="translate(554.73,320.40) rotate(-45)" font-size="6.0" text-anchor="end" fill="#231f20">20–40</text>
<line x1="563.57" y1="312.40" x2="563.57" y2="314.70" stroke="#7f7f7f" stroke-width="0.8"/>
<text transform="translate(565.87,320.40) rotate(-45)" font-size="6.0" text-anchor="end" fill="#231f20">60–80</text>
<line x1="574.71" y1="312.40" x2="574.71" y2="314.70" stroke="#7f7f7f" stroke-width="0.8"/>
<text transform="translate(577.01,320.40) rotate(-45)" font-size="6.0" text-anchor="end" fill="#231f20">80–100</text>
<line x1="541.29" y1="297.30" x2="541.29" y2="307.90" stroke="#3db5ea" stroke-width="1.5" stroke-opacity="0.85"/>
<circle cx="541.29" cy="302.90" r="2.45" fill="#3db5ea"/>
<line x1="552.43" y1="286.20" x2="552.43" y2="296.60" stroke="#3db5ea" stroke-width="1.5" stroke-opacity="0.85"/>
<circle cx="552.43" cy="291.40" r="2.45" fill="#3db5ea"/>
<line x1="563.57" y1="254.10" x2="563.57" y2="264.50" stroke="#3db5ea" stroke-width="1.5" stroke-opacity="0.85"/>
<circle cx="563.57" cy="259.70" r="2.45" fill="#3db5ea"/>
<line x1="574.71" y1="219.10" x2="574.71" y2="230.40" stroke="#3db5ea" stroke-width="1.5" stroke-opacity="0.85"/>
<circle cx="574.71" cy="224.90" r="2.45" fill="#3db5ea"/>
<rect x="586.40" y="200.40" width="46.50" height="14.10" fill="#fff" stroke="#7f7f7f" stroke-width="1" rx="1"/>
<text x="609.65" y="210.60" font-size="6.5" text-anchor="middle" fill="#231f20" textLength="36.60" lengthAdjust="spacingAndGlyphs" >LA ancestry</text>
<rect x="586.40" y="214.50" width="46.50" height="97.90" fill="#fff" stroke="#7f7f7f" stroke-width="1"/>
<line x1="586.90" y1="283.30" x2="632.40" y2="283.30" stroke="#555" stroke-width="1" stroke-dasharray="3.6,2.25"/>
<line x1="593.04" y1="312.40" x2="593.04" y2="314.70" stroke="#7f7f7f" stroke-width="0.8"/>
<text transform="translate(595.34,320.40) rotate(-45)" font-size="6.0" text-anchor="end" fill="#231f20">0–20</text>
<line x1="604.11" y1="312.40" x2="604.11" y2="314.70" stroke="#7f7f7f" stroke-width="0.8"/>
<text transform="translate(606.41,320.40) rotate(-45)" font-size="6.0" text-anchor="end" fill="#231f20">20–40</text>
<line x1="615.19" y1="312.40" x2="615.19" y2="314.70" stroke="#7f7f7f" stroke-width="0.8"/>
<text transform="translate(617.49,320.40) rotate(-45)" font-size="6.0" text-anchor="end" fill="#231f20">60–80</text>
<line x1="626.26" y1="312.40" x2="626.26" y2="314.70" stroke="#7f7f7f" stroke-width="0.8"/>
<text transform="translate(628.56,320.40) rotate(-45)" font-size="6.0" text-anchor="end" fill="#231f20">80–100</text>
<line x1="593.04" y1="291.10" x2="593.04" y2="302.70" stroke="#ec7533" stroke-width="1.5" stroke-opacity="0.85"/>
<circle cx="593.04" cy="297.20" r="2.45" fill="#ec7533"/>
<line x1="604.11" y1="286.60" x2="604.11" y2="297.80" stroke="#ec7533" stroke-width="1.5" stroke-opacity="0.85"/>
<circle cx="604.11" cy="292.30" r="2.45" fill="#ec7533"/>
<line x1="615.19" y1="262.80" x2="615.19" y2="273.70" stroke="#ec7533" stroke-width="1.5" stroke-opacity="0.85"/>
<circle cx="615.19" cy="268.40" r="2.45" fill="#ec7533"/>
<line x1="626.26" y1="237.00" x2="626.26" y2="248.50" stroke="#ec7533" stroke-width="1.5" stroke-opacity="0.85"/>
<circle cx="626.26" cy="242.90" r="2.45" fill="#ec7533"/>
<rect x="638.20" y="200.40" width="46.30" height="14.10" fill="#fff" stroke="#7f7f7f" stroke-width="1" rx="1"/>
<text x="661.35" y="210.60" font-size="6.5" text-anchor="middle" fill="#231f20" textLength="37.00" lengthAdjust="spacingAndGlyphs" >AA ancestry</text>
<rect x="638.20" y="214.50" width="46.30" height="97.90" fill="#fff" stroke="#7f7f7f" stroke-width="1"/>
<line x1="638.70" y1="283.30" x2="684.00" y2="283.30" stroke="#555" stroke-width="1" stroke-dasharray="3.6,2.25"/>
<line x1="644.81" y1="312.40" x2="644.81" y2="314.70" stroke="#7f7f7f" stroke-width="0.8"/>
<text transform="translate(647.11,320.40) rotate(-45)" font-size="6.0" text-anchor="end" fill="#231f20">0–20</text>
<line x1="655.84" y1="312.40" x2="655.84" y2="314.70" stroke="#7f7f7f" stroke-width="0.8"/>
<text transform="translate(658.14,320.40) rotate(-45)" font-size="6.0" text-anchor="end" fill="#231f20">20–40</text>
<line x1="666.86" y1="312.40" x2="666.86" y2="314.70" stroke="#7f7f7f" stroke-width="0.8"/>
<text transform="translate(669.16,320.40) rotate(-45)" font-size="6.0" text-anchor="end" fill="#231f20">60–80</text>
<line x1="677.89" y1="312.40" x2="677.89" y2="314.70" stroke="#7f7f7f" stroke-width="0.8"/>
<text transform="translate(680.19,320.40) rotate(-45)" font-size="6.0" text-anchor="end" fill="#231f20">80–100</text>
<line x1="644.81" y1="291.40" x2="644.81" y2="305.70" stroke="#10998a" stroke-width="1.5" stroke-opacity="0.85"/>
<circle cx="644.81" cy="298.80" r="2.45" fill="#10998a"/>
<line x1="655.84" y1="285.30" x2="655.84" y2="299.50" stroke="#10998a" stroke-width="1.5" stroke-opacity="0.85"/>
<circle cx="655.84" cy="292.20" r="2.45" fill="#10998a"/>
<line x1="666.86" y1="255.30" x2="666.86" y2="268.60" stroke="#10998a" stroke-width="1.5" stroke-opacity="0.85"/>
<circle cx="666.86" cy="261.90" r="2.45" fill="#10998a"/>
<line x1="677.89" y1="238.60" x2="677.89" y2="250.90" stroke="#10998a" stroke-width="1.5" stroke-opacity="0.85"/>
<circle cx="677.89" cy="244.70" r="2.45" fill="#10998a"/>
<line x1="480.6" y1="225.20" x2="483" y2="225.20" stroke="#7f7f7f" stroke-width="0.8"/>
<text x="478.50" y="227.40" font-size="6.3" text-anchor="end" fill="#231f20" >5.0</text>
<line x1="480.6" y1="257.90" x2="483" y2="257.90" stroke="#7f7f7f" stroke-width="0.8"/>
<text x="478.50" y="260.10" font-size="6.3" text-anchor="end" fill="#231f20" >2.0</text>
<line x1="480.6" y1="283.30" x2="483" y2="283.30" stroke="#7f7f7f" stroke-width="0.8"/>
<text x="478.50" y="285.50" font-size="6.3" text-anchor="end" fill="#231f20" >1.0</text>
<line x1="480.6" y1="308.30" x2="483" y2="308.30" stroke="#7f7f7f" stroke-width="0.8"/>
<text x="478.50" y="310.50" font-size="6.3" text-anchor="end" fill="#231f20" >0.5</text>
<text transform="translate(463.5,264.0) rotate(-90)" font-size="6.5" text-anchor="middle" fill="#231f20">OR</text>
<text x="583.60" y="344.90" font-size="6.6" text-anchor="middle" fill="#231f20" textLength="45.00" lengthAdjust="spacingAndGlyphs" >Percentiles (%)</text>
</svg>
</body></html>
